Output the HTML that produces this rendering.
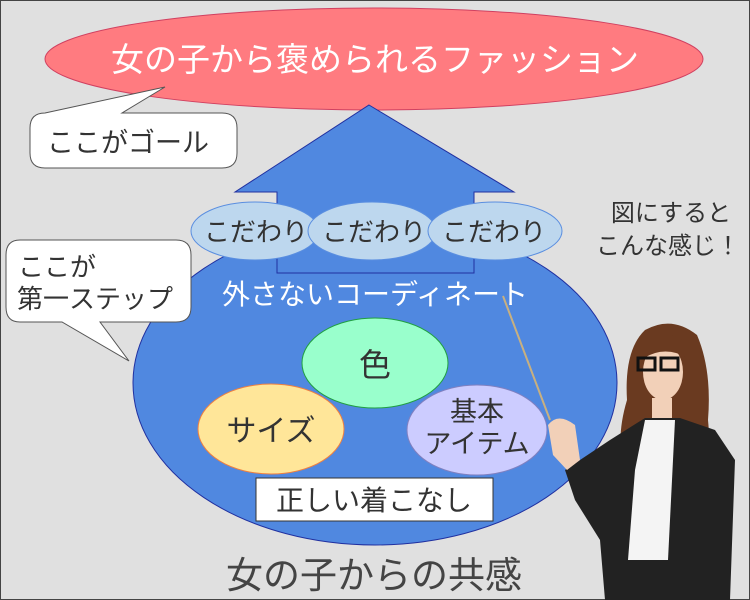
<!DOCTYPE html>
<html><head><meta charset="utf-8"><style>
html,body{margin:0;padding:0;background:#e0e0e0;}
svg{display:block;}
text{font-family:"Liberation Sans","Noto Sans CJK JP",sans-serif;}
</style></head><body>
<svg width="750" height="600" viewBox="0 0 750 600" xmlns="http://www.w3.org/2000/svg">
<rect x="0.5" y="0.5" width="749" height="599" fill="#e0e0e0" stroke="#444" stroke-width="1"/>
<ellipse cx="374" cy="59" rx="329" ry="51" fill="#ff7b80" stroke="#d04060" stroke-width="1"/>
<text x="375" y="71" font-size="33" fill="#fff" text-anchor="middle">女の子から褒められるファッション</text>
<ellipse cx="375" cy="383" rx="242" ry="162" fill="#5088e0" stroke="#2030a0" stroke-width="1"/>
<polygon points="369,105 514,192 474,192 474,273 277,273 277,192 235,192" fill="#5088e0" stroke="#2030a0" stroke-width="1"/>
<ellipse cx="255" cy="231" rx="64" ry="29" fill="#bdd7ee" stroke="#5a8ee0"/>
<ellipse cx="372" cy="231" rx="64" ry="29" fill="#bdd7ee" stroke="#5a8ee0"/>
<ellipse cx="495" cy="231" rx="67" ry="29" fill="#bdd7ee" stroke="#5a8ee0"/>
<text x="256" y="241" font-size="26" fill="#333" text-anchor="middle">こだわり</text>
<text x="374" y="241" font-size="26" fill="#333" text-anchor="middle">こだわり</text>
<text x="494" y="241" font-size="26" fill="#333" text-anchor="middle">こだわり</text>
<text x="375" y="304" font-size="28" fill="#fff" text-anchor="middle">外さないコーディネート</text>
<ellipse cx="375" cy="363" rx="73" ry="45" fill="#99ffcc" stroke="#20a040"/>
<text x="375" y="376" font-size="32" fill="#333" text-anchor="middle">色</text>
<ellipse cx="271" cy="429" rx="73" ry="45" fill="#ffe699" stroke="#f08040"/>
<text x="271" y="441" font-size="30" fill="#333" text-anchor="middle">サイズ</text>
<ellipse cx="477" cy="430" rx="70" ry="45" fill="#ccccff" stroke="#8080c0"/>
<text x="477" y="421" font-size="27" fill="#333" text-anchor="middle">基本</text>
<text x="477" y="453" font-size="27" fill="#333" text-anchor="middle">アイテム</text>
<rect x="256" y="478" width="237" height="43" fill="#fff" stroke="#333"/>
<text x="374" y="510" font-size="28" fill="#333" text-anchor="middle">正しい着こなし</text>
<text x="374" y="588" font-size="37" fill="#444" text-anchor="middle">女の子からの共感</text>
<path d="M45,113 L165,87 L122,113 L222,113 Q237,113 237,128 L237,153 Q237,168 222,168 L45,168 Q30,168 30,153 L30,128 Q30,113 45,113 Z" fill="#fff" stroke="#555"/>
<text x="47" y="152" font-size="27" fill="#333">ここがゴール</text>
<path d="M20,240 L176,240 Q191,240 191,255 L191,307 Q191,322 176,322 L100,322 L129,361 L62,322 L20,322 Q6,322 6,307 L6,255 Q6,240 20,240 Z" fill="#fff" stroke="#555"/>
<text x="18" y="276" font-size="26" fill="#333">ここが</text>
<text x="17" y="308" font-size="26" fill="#333">第一ステップ</text>
<text x="671" y="221" font-size="24" fill="#333" text-anchor="middle">図にすると</text>
<text x="668" y="254" font-size="24" fill="#333" text-anchor="middle">こんな感じ！</text>
<!-- woman -->
<line x1="503" y1="296" x2="550" y2="420" stroke="#c8b080" stroke-width="2"/>
<path d="M645,330 Q672,315 697,335 Q712,370 708,420 Q712,460 700,470 L625,470 Q615,440 627,400 Q624,350 645,330 Z" fill="#6a3a20"/>
<ellipse cx="663" cy="372" rx="20" ry="28" fill="#f2d0b8"/>
<path d="M640,340 Q665,325 690,345 L688,358 Q665,345 644,358 Z" fill="#6a3a20"/>
<rect x="638" y="358" width="17" height="12" fill="none" stroke="#111" stroke-width="3"/>
<rect x="661" y="358" width="17" height="12" fill="none" stroke="#111" stroke-width="3"/>
<rect x="652" y="398" width="20" height="22" fill="#f2d0b8"/>
<path d="M610,440 L645,418 L680,418 L715,430 L735,460 L730,600 L605,600 L600,540 L575,500 L565,470 Z" fill="#222"/>
<path d="M645,420 L675,420 L668,560 L628,560 L635,470 Z" fill="#f4f4f4"/>
<path d="M548,425 Q558,412 575,425 L580,460 L567,470 L553,455 Z" fill="#f2d0b8"/>
</svg>
</body></html>
